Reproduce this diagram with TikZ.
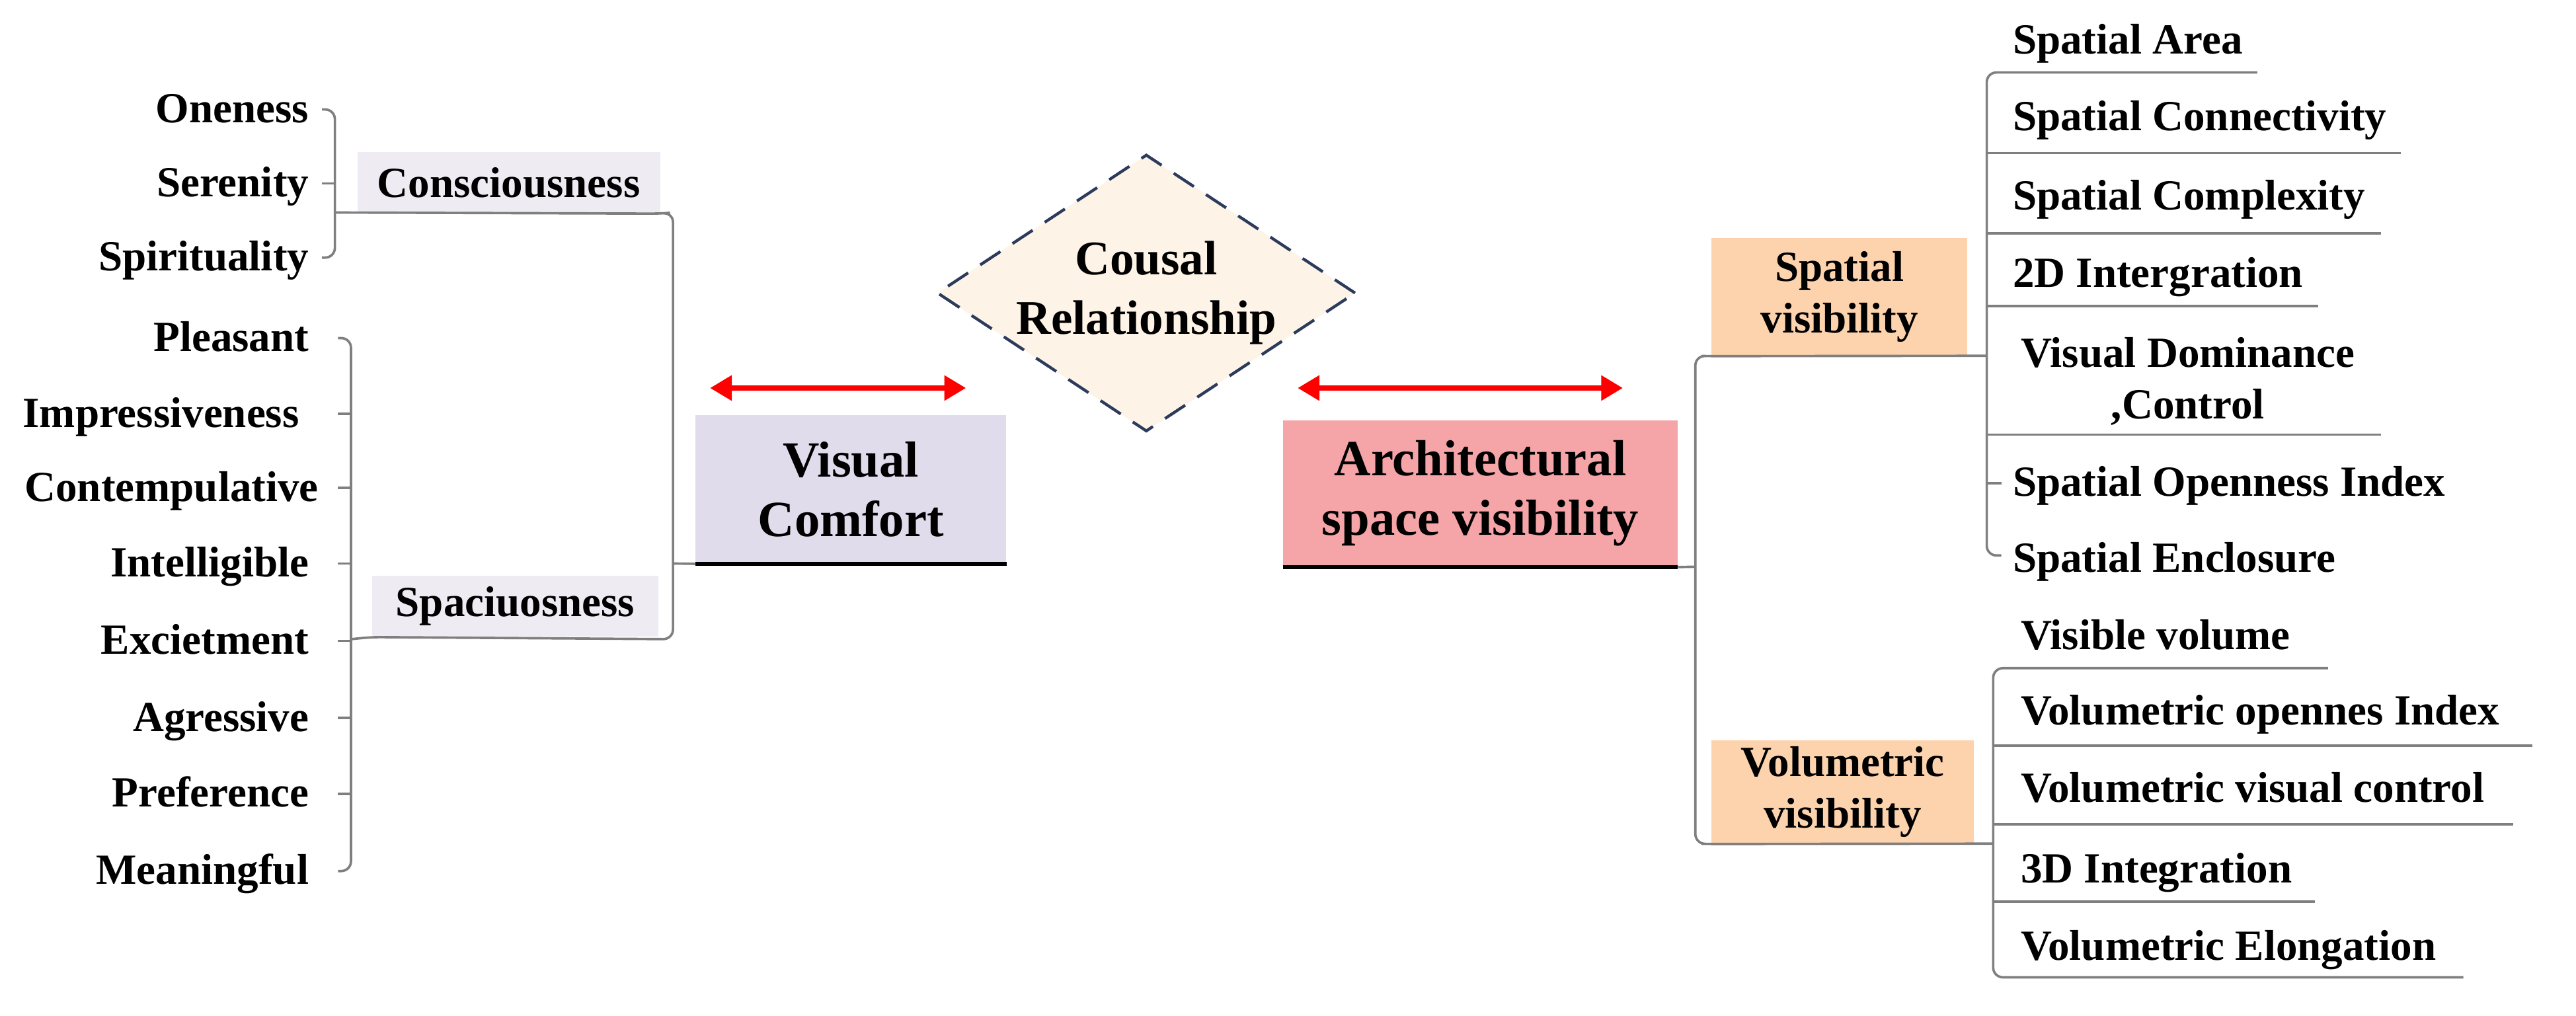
\documentclass[tikz,border=0pt]{standalone}
\usepackage{fontspec}
\setmainfont{Liberation Serif}
\usetikzlibrary{shapes.geometric,arrows.meta,calc}
\definecolor{lav}{HTML}{EEEBF3}
\definecolor{lavd}{HTML}{E1DCEC}
\definecolor{pinkb}{HTML}{F5A4A7}
\definecolor{peach}{HTML}{FDD3AE}
\definecolor{cream}{HTML}{FDF3E6}
\definecolor{navy}{HTML}{2C3A5C}
\definecolor{conngray}{HTML}{7F7F7F}
\begin{document}
\begin{tikzpicture}[x=1pt,y=-1pt,
  lbl/.style={font=\fontsize{26.7}{31}\selectfont\bfseries, inner sep=0pt},
  lleaf/.style={lbl, anchor=mid east, yshift=-6pt},
  rleaf/.style={lbl, anchor=mid west, yshift=-6pt},
  smallbox/.style={lbl, fill=lav, minimum width=#1, minimum height=38, anchor=center},
  peachbox/.style={font=\fontsize{26.7}{32}\selectfont\bfseries, inner sep=0pt, fill=peach, align=center},
  bigbox/.style={font=\fontsize{31.5}{37}\selectfont\bfseries, inner sep=0pt, align=center},
  conn/.style={draw=conngray, line width=1.5pt, rounded corners=6pt},
  under/.style={draw=black, line width=2.2pt},
  redarrow/.style={draw=red, line width=3.5pt, {Triangle[width=15pt,length=13.5pt]}-{Triangle[width=15pt,length=13.5pt]}}
]
\useasboundingbox (0,0) rectangle (1600,631);

% ---------- left leaves ----------
\node[lleaf] (one) at (192,68) {Oneness};
\node[lleaf] (ser) at (192,114) {Serenity};
\node[lleaf] (spi) at (192,160) {Spirituality};
\node[lleaf] (ple) at (192,210) {Pleasant};
\node[lleaf] (imp) at (186,257) {Impressiveness};
\node[lleaf] (con) at (198,303) {Contempulative};
\node[lleaf] (int) at (192,350) {Intelligible};
\node[lleaf] (exc) at (192,398) {Excietment};
\node[lleaf] (agr) at (192,446) {Agressive};
\node[lleaf] (pre) at (192,493) {Preference};
\node[lleaf] (mea) at (192,541) {Meaningful};

% ---------- left boxes ----------
\node[smallbox=188] (cons) at (316,113.5) {Consciousness};
\node[smallbox=178] (spac) at (320,376.5) {Spaciuosness};
\node[bigbox, fill=lavd, minimum width=193, minimum height=92] (vc) at (528.5,304) {Visual\\Comfort};
\draw[under] (vc.south west) -- (vc.south east);

% brackets (left)
\draw[conn] (200,68) -- (208,68) -- (208,160) -- (200,160);
\draw[conn] (200,114) -- (208,114);
\draw[conn] (208,132) -- (cons.south east) -- (418,132) -- (418,397) -- (spac.south west) -- (218,397);
\draw[conn] (210,210) -- (218,210) -- (218,541) -- (210,541);
\foreach \yy in {257,303,350,398,446,493}{\draw[conn] (210,\yy) -- (218,\yy);}
\draw[conn] (418,350) -- (vc.south west);

% ---------- centre ----------
\node[diamond, draw=navy, fill=cream, line width=1.8pt, dash pattern=on 15pt off 9pt,
      shape aspect=1.51, minimum width=260, minimum height=172, inner sep=0pt, align=center,
      font=\fontsize{30}{37}\selectfont\bfseries] (cr) at (712,182) {Cousal\\Relationship};

\coordinate (la1) at (441,241);
\coordinate (la2) at (600,241);
\coordinate (ra1) at (806,241);
\coordinate (ra2) at (1008,241);
\draw[redarrow] (la1) -- (la2);
\draw[redarrow] (ra1) -- (ra2);

\node[bigbox, fill=pinkb, minimum width=245, minimum height=91] (ar) at (919.5,306.5) {Architectural\\space visibility};
\draw[under] (ar.south west) -- (ar.south east);

% ---------- right boxes ----------
\node[peachbox, minimum width=159, minimum height=73] (sv) at (1142.5,184.5) {Spatial\\visibility};
\node[peachbox, minimum width=163, minimum height=64] (vv) at (1144.5,492) {Volumetric\\visibility};

\draw[conn] (ar.south east) -- (1053,352);
\draw[conn] (1234,221) -- (sv.south west) -- (1053,221) -- (1053,524) -- (vv.south west) -- (1238,524);

% ---------- right leaves : spatial ----------
\node[rleaf] (sa)  at (1250,25)  {Spatial Area};
\node[rleaf] (sco) at (1250,73)  {Spatial Connectivity};
\node[rleaf] (scx) at (1250,122) {Spatial Complexity};
\node[rleaf] (d2)  at (1250,170) {2D Intergration};
\node[lbl, anchor=west, align=center, font=\fontsize{26.7}{32}\selectfont\bfseries] (vd) at (1255,237) {Visual Dominance\\,Control};
\node[rleaf] (so)  at (1250,300) {Spatial Openness Index};
\node[rleaf] (se)  at (1250,347) {Spatial Enclosure};

\draw[conn] (1402,45) -- (1234,45) -- (1234,345) -- (1243,345);
\draw[conn] (1234,95) -- (1491,95);
\draw[conn] (1234,145) -- (1479,145);
\draw[conn] (1234,190) -- (1440,190);
\draw[conn] (1234,270) -- (1479,270);
\draw[conn] (1234,300) -- (1243,300);

% ---------- right leaves : volumetric ----------
\node[rleaf] (vvo) at (1255,395) {Visible volume};
\node[rleaf] (voi) at (1255,442) {Volumetric opennes Index};
\node[rleaf] (vvc) at (1255,490) {Volumetric visual control};
\node[rleaf] (d3)  at (1255,540) {3D Integration};
\node[rleaf] (vel) at (1255,588) {Volumetric Elongation};

\draw[conn] (1446,415) -- (1238,415) -- (1238,607) -- (1530,607);
\draw[conn] (1238,463) -- (1573,463);
\draw[conn] (1238,512) -- (1561,512);
\draw[conn] (1238,560) -- (1438,560);
\end{tikzpicture}
\end{document}
